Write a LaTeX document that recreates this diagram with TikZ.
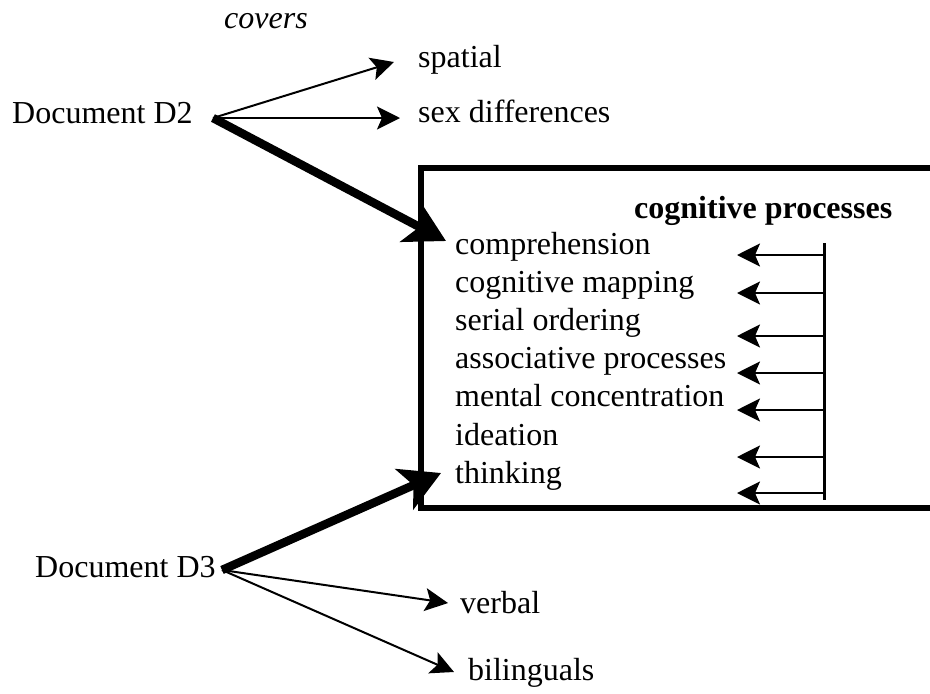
\documentclass[tikz,border=0pt]{standalone}
\usepackage{fontspec}
\setmainfont{Liberation Serif}
\usetikzlibrary{arrows.meta}
\begin{document}
\begin{tikzpicture}[x=1pt,y=-1pt,
  lbl/.style={anchor=base west,inner sep=0pt,font=\fontsize{32}{38}\selectfont},
  thinarrow/.style={line width=2pt,-{Stealth[length=23pt,width=23pt,inset=5pt]}},
  thickarrow/.style={line width=8.5pt,-{Stealth[length=40pt,width=44pt,inset=10pt]}},
  itemarrow/.style={line width=2pt,-{Stealth[length=23pt,width=23pt,inset=5pt]}},
  boxline/.style={line width=6pt}]
\useasboundingbox (0,0) rectangle (930,694);

% labels
\node[lbl,font=\fontsize{32}{38}\selectfont\itshape] (covers) at (224,28) {covers};
\node[lbl] (docD2) at (12,123) {Document D2};
\node[lbl] (spatial) at (418,67) {spatial};
\node[lbl] (sexdiff) at (418,122) {sex differences};
\node[lbl] (docD3) at (35,577) {Document D3};
\node[lbl] (verbal) at (460,613) {verbal};
\node[lbl] (biling) at (468,680) {bilinguals};

% box
\draw[boxline] (930,168) -- (421,168) -- (421,508) -- (930,508);
\node[lbl,font=\fontsize{32}{38}\selectfont\bfseries] (title) at (634,218) {cognitive processes};
\foreach \t [count=\i] in {comprehension,cognitive mapping,serial ordering,associative processes,mental concentration,ideation,thinking}{
  \node[lbl] (item\i) at (455,{254+38.2*(\i-1)}) {\t};
}

% anchor points
\coordinate (d2) at (213,118);
\coordinate (d3) at (222,570);
\coordinate (spTip) at (394,62);
\coordinate (sxTip) at (400,118);
\coordinate (boxTop) at (446,241);
\coordinate (boxBot) at (441,473);
\coordinate (vbTip) at (448,603);
\coordinate (blTip) at (454,672);

\draw[thinarrow] (d2) -- (spTip);
\draw[thinarrow] (d2) -- (sxTip);
\draw[thickarrow] (d2) -- (boxTop);
\draw[thickarrow] (d3) -- (boxBot);
\draw[thinarrow] (d3) -- (vbTip);
\draw[thinarrow] (d3) -- (blTip);

% right-hand bar with arrows
\coordinate (barTop) at (824,243);
\coordinate (barBot) at (824,500);
\draw[line width=3pt] (barTop) -- (barBot);
\foreach \y [count=\i] in {255,293,336,373,410,457,493}{
  \coordinate (a\i) at (824,\y);
  \coordinate (t\i) at (737,\y);
  \draw[itemarrow] (a\i) -- (t\i);
}
\end{tikzpicture}
\end{document}
